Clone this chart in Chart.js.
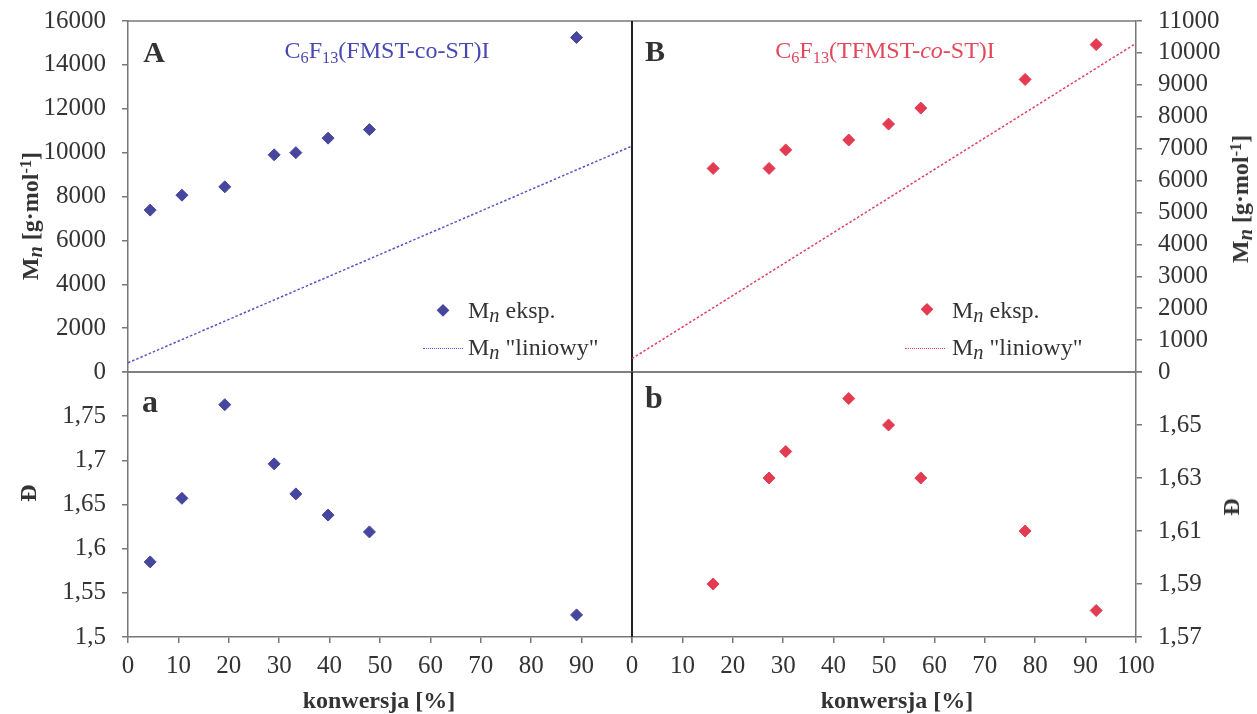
<!DOCTYPE html>
<html><head><meta charset="utf-8">
<script src="https://cdn.jsdelivr.net/npm/chart.js@4.4.0/dist/chart.umd.min.js"></script>
<style>
html,body{margin:0;padding:0;background:#fff;}
#wrap{position:relative;width:1257px;height:714px;overflow:hidden;font-family:'Liberation Serif','Times New Roman',serif;color:#333;background:#fff;}
canvas{position:absolute;}
.t{position:absolute;white-space:nowrap;line-height:1;}
.c{transform:translate(-50%,-50%);}
.l{transform:translate(0,-50%);}
.r{transform:translate(-50%,-50%) rotate(-90deg);}
.sb{font-size:0.68em;position:relative;top:0.3em;}
.sn{font-style:italic;font-size:0.85em;position:relative;top:0.22em;}
.sp{font-size:0.68em;position:relative;top:-0.45em;}
.b{font-weight:bold;}
.dia{position:absolute;width:8.5px;height:8.5px;transform:translate(-50%,-50%) rotate(45deg);}
.dl{position:absolute;height:0;border-top:1.6px dotted;}
</style></head><body>
<div id="wrap">
<canvas id="cA" style="left:0;top:0" width="640" height="380"></canvas>
<canvas id="cB" style="left:624px;top:0" width="633" height="380"></canvas>
<canvas id="ca" style="left:0;top:360px" width="640" height="354"></canvas>
<canvas id="cb" style="left:624px;top:360px" width="633" height="354"></canvas>

<div class="t c b" style="left:154px;top:52px;font-size:30px;">A</div>
<div class="t c b" style="left:655px;top:51px;font-size:30px;">B</div>
<div class="t c b" style="left:150px;top:401px;font-size:32px;">a</div>
<div class="t c b" style="left:654px;top:397px;font-size:32px;">b</div>

<div class="t c" style="left:387px;top:50px;font-size:24px;color:#4848b0;">C<span class="sb">6</span>F<span class="sb">13</span>(FMST-co-ST)I</div>
<div class="t c" style="left:885px;top:50px;font-size:24px;color:#e2485c;">C<span class="sb">6</span>F<span class="sb">13</span>(TFMST-<i>co</i>-ST)I</div>

<div class="dia" style="left:443px;top:310px;background:#46469e;"></div>
<div class="t l" style="left:468px;top:310px;font-size:24px;">M<span class="sn">n</span> eksp.</div>
<div class="dl" style="left:423px;top:348px;width:40px;border-color:#5555c8;"></div>
<div class="t l" style="left:468px;top:347px;font-size:24px;">M<span class="sn">n</span> "liniowy"</div>

<div class="dia" style="left:927px;top:309px;background:#e33b52;"></div>
<div class="t l" style="left:952px;top:310px;font-size:24px;">M<span class="sn">n</span> eksp.</div>
<div class="dl" style="left:905px;top:348px;width:40px;border-color:#e04060;"></div>
<div class="t l" style="left:952px;top:347px;font-size:24px;">M<span class="sn">n</span> "liniowy"</div>

<div class="t r b" style="left:30px;top:216px;font-size:24px;">M<span class="sn">n</span> [g·mol<span class="sp">-1</span>]</div>
<div class="t r b" style="left:1240px;top:199px;font-size:24px;">M<span class="sn">n</span> [g·mol<span class="sp">-1</span>]</div>
<div class="t r b" style="left:28px;top:493px;font-size:24px;">Đ</div>
<div class="t r b" style="left:1231px;top:507px;font-size:24px;">Đ</div>
<div class="t c b" style="left:379px;top:700px;font-size:24px;">konwersja [%]</div>
<div class="t c b" style="left:897px;top:700px;font-size:24px;">konwersja [%]</div>
</div>
<script>
// ---- data ----
const convA = [4.4, 10.7, 19.2, 29.0, 33.3, 39.7, 47.9, 89.0];
const mnA   = [7380, 8060, 8440, 9900, 10000, 10660, 11050, 15250];
const dispA = [1.585, 1.657, 1.763, 1.696, 1.662, 1.638, 1.619, 1.525];
const convB = [16.1, 27.2, 30.5, 43.0, 50.9, 57.3, 78.0, 92.1];
const mnB   = [6380, 6380, 6960, 7270, 7770, 8270, 9170, 10260];
const dispB = [1.59, 1.63, 1.64, 1.66, 1.65, 1.63, 1.61, 1.58];
const linConv = [0, 100];
const linMnA  = [420, 10300];
const linMnB  = [420, 10300];
const xTicks  = [0, 100, 10];
const yTicksA = [0, 16000, 2000];
const yTicksB = [0, 11000, 1000];
const yTicksa = [1.5, 1.8, 0.05];
const yTicksb = [1.57, 1.67, 0.02];

const FONT = "'Liberation Serif','Times New Roman',serif";
const AX = '#777';
const BLUE = '#46469e', RED = '#e33b52';
const pts = (xs, ys) => xs.map((x, i) => ({x, y: ys[i]}));

const framePlugin = {
  id: 'frame',
  beforeDatasetsDraw(chart, args, opts) {
    const {ctx, chartArea: a} = chart;
    ctx.save();
    const seg = (x1, y1, x2, y2, c, w) => { ctx.strokeStyle = c; ctx.lineWidth = w; ctx.beginPath(); ctx.moveTo(x1, y1); ctx.lineTo(x2, y2); ctx.stroke(); };
    (opts.sides || []).forEach(s => {
      const dark = s === opts.dark;
      const c = dark ? '#222' : AX, w = dark ? 2 : 1.5;
      if (s === 'top') seg(a.left, a.top, a.right, a.top, c, w);
      if (s === 'bottom') seg(a.left, a.bottom, a.right, a.bottom, c, w);
      if (s === 'left') seg(a.left, a.top, a.left, a.bottom, c, w);
      if (s === 'right') seg(a.right, a.top, a.right, a.bottom, c, w);
    });
    ctx.restore();
  }
};

function fmtComma(v) { return String(+v.toFixed(2)).replace('.', ','); }
function noPad(s) { s.paddingTop = 0; s.paddingBottom = 0; s.paddingLeft = 0; s.paddingRight = 0; }

function yScale(pos, t, width, hide, fmt) {
  return {
    type: 'linear', position: pos, min: t[0], max: t[1],
    ticks: {stepSize: t[2], autoSkip: false, color: '#333', font: {family: FONT, size: 25}, padding: 16,
      callback: v => (hide !== null && Math.abs(v - hide) < 1e-9) ? '' : fmt(v)},
    grid: {drawOnChartArea: false, drawTicks: true, tickLength: 6, color: AX, lineWidth: 1.5},
    border: {display: true, color: AX, width: 1.5},
    afterFit: s => { s.width = width; noPad(s); }
  };
}
function xScale(show, hide) {
  if (!show) return {type: 'linear', min: xTicks[0], max: xTicks[1], display: false};
  return {
    type: 'linear', position: 'bottom', min: xTicks[0], max: xTicks[1],
    ticks: {stepSize: xTicks[2], autoSkip: false, maxRotation: 0, color: '#333', font: {family: FONT, size: 25}, padding: 8,
      callback: v => (hide !== null && Math.abs(v - hide) < 1e-9) ? '' : String(v)},
    grid: {drawOnChartArea: false, drawTicks: true, tickLength: 6, color: AX, lineWidth: 1.5},
    border: {display: true, color: AX, width: 1.5},
    afterFit: s => { s.height = 77; noPad(s); }
  };
}
function dsPts(data, color) {
  return {type: 'scatter', data, pointStyle: 'rectRot', pointRadius: 6, pointBackgroundColor: color,
    pointBorderColor: color, pointBorderWidth: 1, showLine: false, clip: false};
}
function dsLine(data, color) {
  return {type: 'scatter', data, showLine: true, pointRadius: 0, borderColor: color, borderWidth: 1.5,
    borderDash: [2.5, 2], fill: false};
}
function make(id, datasets, scales, padding, sides, dark) {
  return new Chart(document.getElementById(id), {
    type: 'scatter',
    data: {datasets},
    options: {
      responsive: false, animation: false, events: [],
      layout: {padding, autoPadding: false},
      scales,
      plugins: {legend: {display: false}, tooltip: {enabled: false}, frame: {sides, dark}}
    },
    plugins: [framePlugin]
  });
}
const plain = v => String(v);

make('cA', [dsLine(pts(linConv, linMnA), '#5555c8'), dsPts(pts(convA, mnA), BLUE)],
  {x: xScale(false, null), y: yScale('left', yTicksA, 128, null, plain)},
  {top: 21, right: 8, bottom: 8, left: 0}, ['top', 'bottom', 'right'], 'right');

make('cB', [dsLine(pts(linConv, linMnB), '#e04060'), dsPts(pts(convB, mnB), RED)],
  {x: xScale(false, null), y: yScale('right', yTicksB, 121, null, plain)},
  {top: 21, right: 0, bottom: 8, left: 8}, ['top', 'bottom', 'left'], 'left');

make('ca', [dsPts(pts(convA, dispA), BLUE)],
  {x: xScale(true, 100), y: yScale('left', yTicksa, 128, 1.8, fmtComma)},
  {top: 12, right: 8, bottom: 0, left: 0}, ['top', 'right'], 'right');

make('cb', [dsPts(pts(convB, dispB), RED)],
  {x: xScale(true, null), y: yScale('right', yTicksb, 121, 1.67, fmtComma)},
  {top: 12, right: 0, bottom: 0, left: 8}, ['top', 'left'], 'left');
</script>
</body></html>
